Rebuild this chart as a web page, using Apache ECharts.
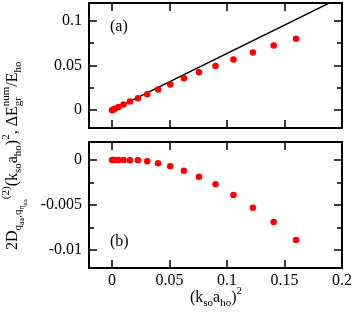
<!DOCTYPE html>
<html>
<head>
<meta charset="utf-8">
<script src="https://cdn.jsdelivr.net/npm/echarts@6/dist/echarts.min.js"></script>
<style>html,body{margin:0;padding:0;background:#fff;}#c{width:354px;height:317px;}</style>
</head>
<body>
<div id="c"></div>
<script>
// ---- data ----
const xVals = [0, 0.0008, 0.0025, 0.0056, 0.01, 0.0156, 0.0225, 0.0306, 0.04, 0.0506, 0.0625, 0.0756, 0.09, 0.1056, 0.1225, 0.1406, 0.16];
const yTopVals = [0, 0.0005, 0.0017, 0.0036, 0.0063, 0.0096, 0.0133, 0.0177, 0.0232, 0.0288, 0.0358, 0.0424, 0.0494, 0.0568, 0.0646, 0.0723, 0.0801];
const yBotVals = [0, 0, 0, 0, 0, -0.00002, -0.00004, -0.00015, -0.00037, -0.0007, -0.0012, -0.00185, -0.0027, -0.0039, -0.0053, -0.0069, -0.0089];
const lineX = [0, 0.2];
const lineY = [0, 0.127];
const xTicks = [0, 0.05, 0.1, 0.15, 0.2];
const yTopMajor = [0, 0.05, 0.1];
const yTopMinor = [0, 0.025, 0.05, 0.075, 0.1];
const yBotMajor = [0, -0.005, -0.01];
const yBotMinor = [0, -0.0025, -0.005, -0.0075, -0.01];
const panelLabels = ['(a)', '(b)'];

const FONT = '"Liberation Serif", "Times New Roman", serif';
const chart = echarts.init(document.getElementById('c'), null, {renderer: 'canvas'});

const G = [
  {left: 89, top: 3, width: 253, height: 125},
  {left: 89, top: 142, width: 253, height: 126}
];
const lineStyle = {color: '#000', width: 2};
const tickStyle = {color: '#000', width: 1.5};

function xAx(grid, pos, labels) {
  return {
    type: 'value', gridIndex: grid, position: pos, min: -0.02, max: 0.2,
    axisLine: {show: true, onZero: false, lineStyle},
    axisTick: {show: true, inside: true, length: 8, lineStyle: tickStyle, customValues: xTicks},
    axisLabel: {show: labels, customValues: xTicks, color: '#000', fontFamily: FONT, fontSize: 16, margin: 5},
    splitLine: {show: false}
  };
}
function yAx(grid, pos, min, max, ticks, len, labels) {
  return {
    type: 'value', gridIndex: grid, position: pos, min, max,
    axisLine: {show: true, onZero: false, lineStyle},
    axisTick: {show: true, inside: true, length: len, lineStyle: tickStyle, customValues: ticks},
    axisLabel: {show: labels, customValues: ticks, color: '#000', fontFamily: FONT, fontSize: 16, margin: 7},
    splitLine: {show: false}
  };
}

const xAxis = [
  xAx(0, 'bottom', false), xAx(0, 'top', false),
  xAx(1, 'bottom', true), xAx(1, 'top', false)
];
const yAxis = [
  yAx(0, 'left', -0.02, 0.12, yTopMajor, 8, true),
  yAx(0, 'left', -0.02, 0.12, yTopMinor, 5, false),
  yAx(0, 'right', -0.02, 0.12, yTopMajor, 8, false),
  yAx(0, 'right', -0.02, 0.12, yTopMinor, 5, false),
  yAx(1, 'left', -0.012, 0.002, yBotMajor, 8, true),
  yAx(1, 'left', -0.012, 0.002, yBotMinor, 5, false),
  yAx(1, 'right', -0.012, 0.002, yBotMajor, 8, false),
  yAx(1, 'right', -0.012, 0.002, yBotMinor, 5, false)
];

// rich-ish label layout
const mctx = document.createElement('canvas').getContext('2d');
function measure(t, s) { mctx.font = s + 'px ' + FONT; return mctx.measureText(t).width; }
function buildLabel(tokens, ox, oy, rotation, align) {
  let adv = 0;
  const pos = [];
  for (const tk of tokens) {
    pos.push(adv);
    if (!tk.na) adv += measure(tk.t, tk.s);
  }
  const start = align === 'center' ? -adv / 2 : 0;
  const children = tokens.map((tk, i) => ({
    type: 'text', x: start + pos[i], y: (tk.dy || 0) - 0.33 * tk.s,
    style: {text: tk.t, fontSize: tk.s, fontFamily: FONT, fill: '#000', align: 'left', verticalAlign: 'middle'}
  }));
  return {type: 'group', x: ox, y: oy, rotation, children};
}

const yTokens = [
  {t: '2D', s: 16},
  {t: 'q', s: 11, dy: 4},
  {t: 'aa', s: 8, dy: 7},
  {t: ',q', s: 11, dy: 4},
  {t: 'η', s: 8, dy: 7},
  {t: 'aa', s: 7, dy: 9},
  {t: '(2)', s: 11, dy: -8},
  {t: '(k', s: 16},
  {t: 'so', s: 11, dy: 4},
  {t: 'a', s: 16},
  {t: 'ho', s: 11, dy: 4},
  {t: ')', s: 16},
  {t: '2', s: 11, dy: -8},
  {t: ', ΔE', s: 16},
  {t: 'gr', s: 11, dy: 4, na: true},
  {t: 'num', s: 11, dy: -8},
  {t: '/E', s: 16},
  {t: 'ho', s: 11, dy: 4}
];
const xTokens = [
  {t: '(k', s: 16},
  {t: 'so', s: 11, dy: 4},
  {t: 'a', s: 16},
  {t: 'ho', s: 11, dy: 4},
  {t: ')', s: 16},
  {t: '2', s: 11, dy: -8}
];

const option = {
  backgroundColor: '#fff',
  animation: false,
  grid: G.map(g => Object.assign({outerBoundsMode: 'none', containLabel: false}, g)),
  xAxis, yAxis,
  series: [
    {type: 'line', xAxisIndex: 0, yAxisIndex: 0, data: lineX.map((x, i) => [x, lineY[i]]),
     showSymbol: false, symbol: 'none', clip: true, lineStyle: {color: '#000', width: 1.5}, z: 3},
    {type: 'scatter', xAxisIndex: 0, yAxisIndex: 0, data: xVals.map((x, i) => [x, yTopVals[i]]),
     symbol: 'circle', symbolSize: 6.5, itemStyle: {color: '#ff0000', opacity: 1}, z: 4},
    {type: 'scatter', xAxisIndex: 2, yAxisIndex: 4, data: xVals.map((x, i) => [x, yBotVals[i]]),
     symbol: 'circle', symbolSize: 6.5, itemStyle: {color: '#ff0000', opacity: 1}, z: 4}
  ],
  graphic: [
    {type: 'text', x: 110, y: 27, style: {text: panelLabels[0], fontSize: 16, fontFamily: FONT, fill: '#000', verticalAlign: 'middle'}},
    {type: 'text', x: 110, y: 242, style: {text: panelLabels[1], fontSize: 16, fontFamily: FONT, fill: '#000', verticalAlign: 'middle'}},
    buildLabel(yTokens, 18, 250, Math.PI / 2, 'left'),
    buildLabel(xTokens, 216, 303, 0, 'center')
  ]
};
chart.setOption(option);
</script>
</body>
</html>
